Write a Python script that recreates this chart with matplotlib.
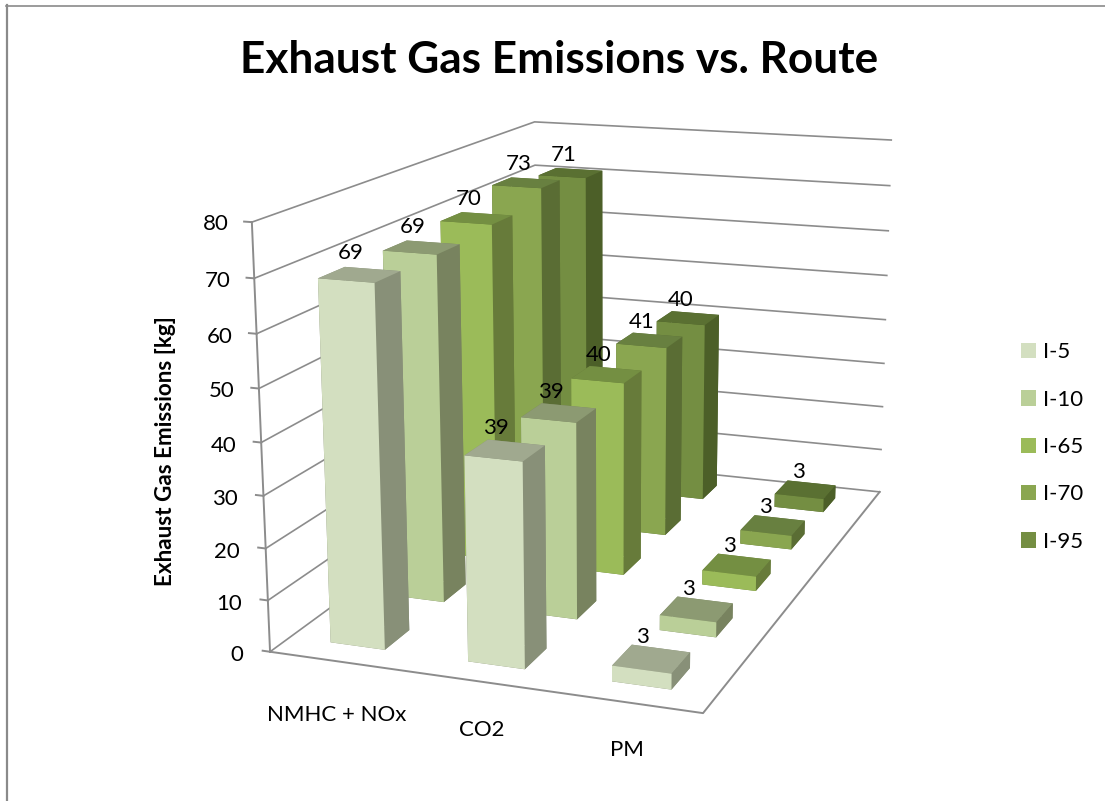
import numpy as np
import matplotlib
matplotlib.use("Agg")
import matplotlib.pyplot as plt
from matplotlib.lines import Line2D
from matplotlib.patches import Patch
from mpl_toolkits.mplot3d import proj3d

plt.rcParams['font.family'] = ['Lato', 'DejaVu Sans']

categories = ["NMHC + NOx", "CO2", "PM"]
series = ["I-5", "I-10", "I-65", "I-70", "I-95"]
nmhc = [69, 69, 70, 73, 71]
co2 = [39, 39, 40, 41, 40]
pm = [3, 3, 3, 3, 3]
values = [nmhc, co2, pm]
z_ticks = [0, 10, 20, 30, 40, 50, 60, 70, 80]

front_cols = ['#D3DFC0', '#BACF98', '#9BBB59', '#8AA650', '#748E42']
side_cols = ['#889078', '#78835F', '#677B3A', '#5A6D34', '#4C5F28']
top_cols = ['#A0A98F', '#8C9A72', '#748F42', '#688040', '#5A7032']
grid_col = '#8C8C8C'

W, H = 1105, 801
fig = plt.figure(figsize=(W / 100, H / 100), dpi=100, facecolor='white')
s = W / H
ax = fig.add_axes([0, -(s - 1) / 2, 1, s], projection='3d', computed_zorder=False)
ax.set_axis_off()
ax.patch.set_visible(False)

# camera calibration: world box corners -> picture pixels
nx, ny, nz = len(categories), len(series), z_ticks[-1]
world = np.array([[0, 0, 0], [nx, 0, 0], [nx, ny, 0], [0, ny, 0],
                  [0, 0, nz], [0, ny, nz], [nx, ny, nz]], float)
pixel = np.array([[269, 652], [703, 713], [879, 492], [539, 456],
                  [253, 222], [533, 122], [892, 140]], float)
rows = []
rhs = []
for (X, Y, Z), (u, v) in zip(world, pixel):
    rows.append([X, Y, Z, 1, 0, 0, 0, 0, -u * X, -u * Y, -u * Z])
    rhs.append(u)
    rows.append([0, 0, 0, 0, X, Y, Z, 1, -v * X, -v * Y, -v * Z])
    rhs.append(v)
sol = np.linalg.lstsq(np.array(rows), np.array(rhs), rcond=None)[0]
P = np.append(sol, 1.0).reshape(3, 4)


def calibrated_proj():
    inv = ax.transData.inverted()
    p0 = inv.transform((0, H))
    p1 = inv.transform((1, H - 1))
    sx, sy = p1 - p0
    row_u = sx * P[0] + p0[0] * P[2]
    row_v = sy * P[1] + p0[1] * P[2]
    return np.array([row_u, row_v, [0, 0, 0, -1], P[2]])


ax.get_proj = calibrated_proj
ax.apply_aspect()


def label3d(x, y, z, text, **kw):
    xp, yp, _ = proj3d.proj_transform(x, y, z, calibrated_proj())
    ax.text2D(xp, yp, text, transform=ax.transData, color='black', zorder=60,
              ha=kw.pop('ha', 'center'), va='center', fontsize=kw.pop('fontsize', 16), **kw)


# walls and floor
for z in z_ticks:
    ax.plot([0, 0, nx], [0, ny, ny], [z, z, z], color=grid_col, lw=1.2, zorder=1)
    ax.plot([-0.055, 0], [0, 0], [z, z], color=grid_col, lw=1.4, zorder=1)
    label3d(-0.2 + 0.035 * z / nz, 0, z - 1.45 + 0.75 * z / nz, str(z), ha='right')
ax.plot([0, 0], [0, 0], [0, nz], color=grid_col, lw=1.4, zorder=1)
ax.plot([0, nx, nx], [0, 0, ny], [0, 0, 0], color=grid_col, lw=1.4, zorder=1)

# bars, back row first
bw = 0.4
for j in range(len(series) - 1, -1, -1):
    for i in range(len(categories)):
        h = values[i][j]
        faces = [side_cols[j], top_cols[j], front_cols[j], side_cols[j], side_cols[j], side_cols[j]]
        ax.bar3d(i + 0.3, j + 0.3, 0, bw, bw, h, color=faces, shade=False,
                 linewidth=0, zorder=10 + (len(series) - j) + i * 0.1)
        label3d(i + 0.44, j + 0.5, h + 3.9, str(h))

for i, (c, dx, dz) in enumerate(zip(categories, [0.75, 0.74, 0.69], [-3.5, -2.2, -2.0])):
    label3d(i + dx, -0.55, dz, c)

ax.set_xlim(0, nx)
ax.set_ylim(0, ny)
ax.set_zlim(0, nz)

fig.text(559 / W, 1 - 60 / H, "Exhaust Gas Emissions vs. Route", ha='center', va='center',
         fontsize=31.8, fontweight='bold', color='black')
fig.text(165 / W, 1 - 451 / H, "Exhaust Gas Emissions [kg]", ha='center', va='center',
         rotation=90, fontsize=16.2, fontweight='bold', color='black')

handles = [Patch(facecolor=c, edgecolor='none') for c in front_cols]
fig.legend(handles, series, loc='center left', bbox_to_anchor=(1021 / W, 1 - 447 / H),
           frameon=False, fontsize=16, labelspacing=1.23, handlelength=0.68, handleheight=0.68,
           handletextpad=0.3, borderpad=0, borderaxespad=0)

fig.add_artist(Line2D([7 / W, 7 / W], [0, 1 - 5 / H], color='#8A8A8A', lw=1.6, transform=fig.transFigure))
fig.add_artist(Line2D([6 / W, 1], [1 - 5.5 / H, 1 - 5.5 / H], color='#8A8A8A', lw=1.2, transform=fig.transFigure))

fig.savefig('out.png', dpi=100)
